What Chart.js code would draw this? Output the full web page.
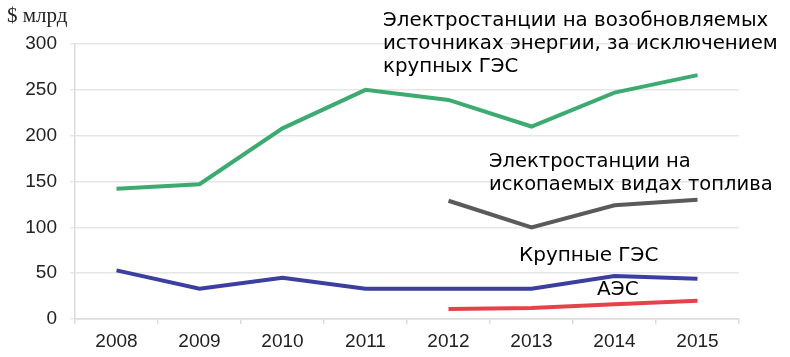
<!DOCTYPE html>
<html>
<head>
<meta charset="utf-8">
<script src="https://cdn.jsdelivr.net/npm/chart.js@4/dist/chart.umd.min.js"></script>
<style>
  html, body { margin: 0; padding: 0; background: #fff; }
  #wrap { width: 790px; height: 357px; position: relative; }
</style>
</head>
<body>
<div id="wrap"><canvas id="c" width="790" height="357"></canvas></div>
<script>
const years = ['2008', '2009', '2010', '2011', '2012', '2013', '2014', '2015'];
const renewables = [142, 147, 208, 250, 239, 210, 247, 266];
const fossil = [null, null, null, null, 129, 100, 124, 130];
const largeHydro = [53, 33, 45, 33, 33, 33, 47, 44];
const nuclear = [null, null, null, null, 11, 12, 16, 20];
const yTicks = [0, 50, 100, 150, 200, 250, 300];
const unitLabel = '$ млрд';
const notes = [
  { lines: ['Электростанции на возобновляемых', 'источниках энергии, за исключением', 'крупных ГЭС'], x: 383, y: 21, size: 19.8 },
  { lines: ['Электростанции на', 'ископаемых видах топлива'], x: 489, y: 162, size: 19.5 },
  { lines: ['Крупные ГЭС'], x: 519, y: 256, size: 20 },
  { lines: ['АЭС'], x: 597, y: 290, size: 20 }
];

const notePlugin = {
  id: 'notes',
  afterDraw(chart) {
    const ctx = chart.ctx;
    ctx.save();
    ctx.fillStyle = '#000';
    ctx.textBaseline = 'middle';
    ctx.textAlign = 'left';
    notes.forEach(n => {
      ctx.font = n.size + 'px "DejaVu Sans"';
      n.lines.forEach((l, i) => ctx.fillText(l, n.x, n.y + i * 23));
    });
    ctx.font = '21px "Liberation Serif"';
    ctx.fillStyle = '#222';
    ctx.fillText(unitLabel, 7, 16);
    ctx.restore();
  }
};

const common = { borderWidth: 4, pointRadius: 0, tension: 0, spanGaps: false, fill: false };

new Chart(document.getElementById('c'), {
  type: 'line',
  data: {
    labels: years,
    datasets: [
      Object.assign({ label: 'ВИЭ', data: renewables, borderColor: '#3daa72' }, common),
      Object.assign({ label: 'Ископаемое', data: fossil, borderColor: '#5a5a5a' }, common),
      Object.assign({ label: 'Крупные ГЭС', data: largeHydro, borderColor: '#3c3ea0' }, common),
      Object.assign({ label: 'АЭС', data: nuclear, borderColor: '#e5424a' }, common)
    ]
  },
  options: {
    responsive: false,
    animation: false,
    layout: { padding: { top: 44, right: 51, left: 0, bottom: 0 } },
    plugins: { legend: { display: false }, tooltip: { enabled: false } },
    scales: {
      x: {
        offset: true,
        grid: { offset: true, display: true, drawOnChartArea: false, color: '#dcdcdc', tickLength: 5, lineWidth: 1.5 },
        border: { color: '#dcdcdc', width: 1.5 },
        ticks: { color: '#222', font: { family: 'Liberation Sans', size: 19 }, padding: 6 },
        afterFit(s) { s.height = 38; }
      },
      y: {
        min: 0, max: 300,
        afterBuildTicks(s) { s.ticks = yTicks.map(v => ({ value: v })); },
        grid: { color: '#e6e6e6', tickLength: 5, lineWidth: 1.5 },
        border: { color: '#dcdcdc', width: 1.5 },
        ticks: { color: '#222', font: { family: 'Liberation Sans', size: 19 }, padding: 13 },
        afterFit(s) { s.width = 75; }
      }
    }
  },
  plugins: [notePlugin]
});
</script>
</body>
</html>
